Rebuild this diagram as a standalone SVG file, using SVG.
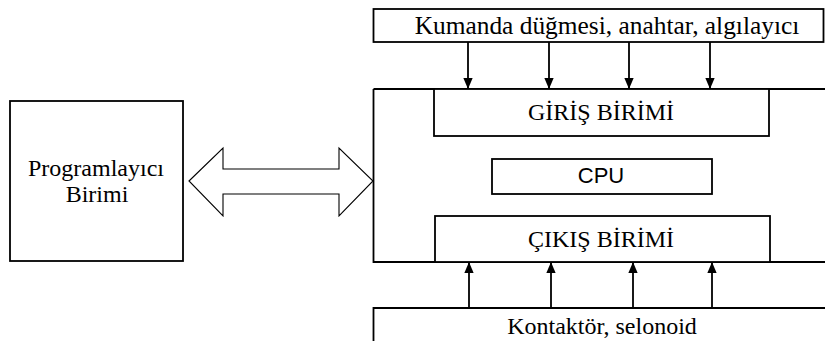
<svg xmlns="http://www.w3.org/2000/svg" width="825" height="341" viewBox="0 0 825 341">
<defs>
<marker id="ah" markerWidth="11" markerHeight="13" refX="13" refY="5.5" orient="auto" markerUnits="userSpaceOnUse" viewBox="0 0 13 11">
<path d="M0,0 L13,5.5 L0,11 Z" fill="#000"/>
</marker>
<style>
.box{fill:#fff;stroke:#000;stroke-width:1.8}
.t{font-family:"Liberation Serif","Times New Roman",serif;font-size:24px;fill:#000;text-anchor:middle}
.big{font-size:25.4px}
.s{font-family:"Liberation Sans",Arial,sans-serif;font-size:22px;fill:#000;text-anchor:middle}
.c{stroke:#000;stroke-width:1.8;fill:none;marker-end:url(#ah)}
</style>
</defs>
<rect width="825" height="341" fill="#fff"/>
<g id="sensors">
<rect class="box" x="373.5" y="9" width="450" height="33"/>
<text class="t big" x="607" y="34">Kumanda düğmesi, anahtar, algılayıcı</text>
</g>
<g id="plc">
<path d="M373.5,89 H826 M373.5,89 V262 H826" class="box" fill="none"/>
</g>
<g id="giris">
<rect class="box" x="434" y="89" width="335" height="47"/>
<text class="t" x="601" y="120">GİRİŞ BİRİMİ</text>
</g>
<g id="cpu">
<rect class="box" x="492" y="159" width="220" height="35"/>
<text class="s" x="601" y="183">CPU</text>
</g>
<g id="cikis">
<rect class="box" x="435" y="216" width="335" height="46"/>
<text class="t" x="601" y="247">ÇIKIŞ BİRİMİ</text>
</g>
<g id="actuators">
<path class="box" d="M373.5,345 V308 H826"/>
<text class="t" x="602" y="334">Kontaktör, selonoid</text>
</g>
<g id="programmer">
<rect class="box" x="10" y="101" width="173" height="160"/>
<text class="t" x="96" y="176">Programlayıcı</text>
<text class="t" x="97" y="202">Birimi</text>
</g>
<g id="connectors">
<path class="c" d="M468,42 V89"/>
<path class="c" d="M549,42 V89"/>
<path class="c" d="M629,42 V89"/>
<path class="c" d="M710,42 V89"/>
<path class="c" d="M469,308 V262"/>
<path class="c" d="M551,308 V262"/>
<path class="c" d="M633,308 V262"/>
<path class="c" d="M712,308 V262"/>
<path d="M189,181 L223,148 V169 H339 V148 L373,181 L339,216 V194 H223 V216 Z" fill="#fff" stroke="#000" stroke-width="1.1"/>
</g>
</svg>
